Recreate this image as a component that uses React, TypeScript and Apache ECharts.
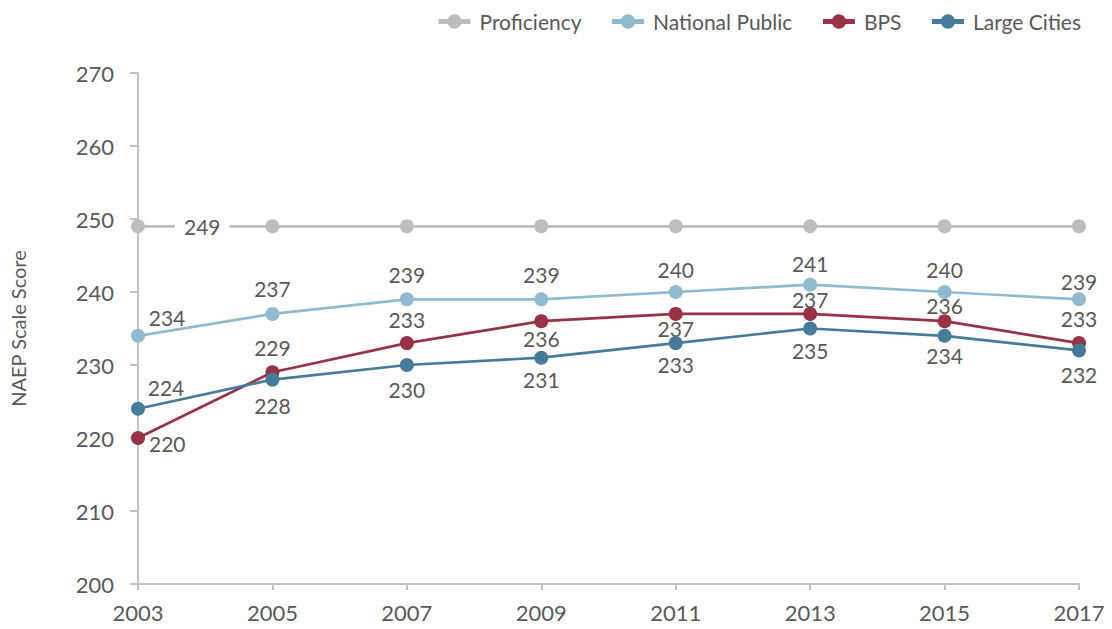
import React, { useEffect, useRef } from "react";
import * as echarts from "echarts";

const years = ["2003", "2005", "2007", "2009", "2011", "2013", "2015", "2017"];
const proficiency = [249, 249, 249, 249, 249, 249, 249, 249];
const nationalPublic = [234, 237, 239, 239, 240, 241, 240, 239];
const bps = [220, 229, 233, 236, 237, 237, 236, 233];
const largeCities = [224, 228, 230, 231, 233, 235, 234, 232];

// label placement per point (style only)
const npPos = ["top", "top", "top", "top", "top", "top", "top", "top"];
const npOff = [[29, 3], [0, -4], [0, -3], [0, -3], [0, -1], [0, 0], [0, -1], [0, 4]];
const bpsPos = ["right", "top", "top", "bottom", "bottom", "top", "top", "top"];
const bpsOff = [[0, 5], [0, -3], [0, -2], [0, -4], [0, -7], [0, 7], [0, 6], [0, -3]];
const lcPos = ["top", "bottom", "bottom", "bottom", "bottom", "bottom", "bottom", "bottom"];
const lcOff = [[28, 0], [0, 4], [0, 3], [0, 0], [0, 0], [0, 0], [0, -2], [0, 3]];

const TEXT = "#595959";
const FONT = "Lato, 'Open Sans', sans-serif";

function withLabels(values: number[], pos: string[], off: number[][]) {
  return values.map((v, i) => ({
    value: v,
    label: { position: pos[i], offset: off[i] },
  }));
}

export default function App() {
  const ref = useRef<HTMLDivElement>(null);
  useEffect(() => {
    if (!ref.current) return;
    const chart = echarts.init(ref.current, undefined, { renderer: "svg" });
    const baseLabel = {
      show: true,
      color: TEXT,
      fontSize: 21,
      fontFamily: FONT,
      distance: 4,
    };
    const lineSeries = (name: string, color: string, data: any[], extra: any = {}) => ({
      name,
      type: "line",
      data,
      symbol: "circle",
      symbolSize: 14,
      lineStyle: { color, width: 2.7 },
      itemStyle: { color },
      label: baseLabel,
      emphasis: { disabled: true },
      ...extra,
    });
    chart.setOption({
      animation: false,
      textStyle: { fontFamily: FONT, color: TEXT },
      legend: {
        top: 6,
        right: 26,
        itemWidth: 32,
        itemHeight: 18,
        itemGap: 28,
        lineStyle: { width: 5 },
        textStyle: { color: TEXT, fontSize: 21, fontFamily: FONT, padding: [0, 0, 0, 4] },
        data: ["Proficiency", "National Public", "BPS", "Large Cities"],
      },
      grid: { left: 138, right: 33, top: 73, bottom: 45 },
      xAxis: {
        type: "category",
        data: years,
        boundaryGap: false,
        axisLine: { lineStyle: { color: "#c4c4c4", width: 2 } },
        axisTick: { length: 6, lineStyle: { color: "#c4c4c4", width: 2 } },
        axisLabel: { color: TEXT, fontSize: 22, fontFamily: FONT, margin: 17 },
      },
      yAxis: {
        type: "value",
        min: 200,
        max: 270,
        interval: 10,
        name: "NAEP Scale Score",
        nameLocation: "middle",
        nameGap: 110,
        nameTextStyle: { color: TEXT, fontSize: 20, fontFamily: FONT },
        axisLine: { show: true, lineStyle: { color: "#c4c4c4", width: 2 } },
        axisTick: { show: true, length: 8, lineStyle: { color: "#c4c4c4", width: 2 } },
        axisLabel: { color: TEXT, fontSize: 22, fontFamily: FONT, margin: 24 },
        splitLine: { show: false },
      },
      series: [
        lineSeries(
          "Proficiency",
          "#bdbdbd",
          proficiency.map((v, i) =>
            i === 0
              ? {
                  value: v,
                  label: {
                    show: true,
                    position: "right",
                    distance: 30,
                    backgroundColor: "#ffffff",
                    padding: [2, 9],
                  },
                }
              : { value: v, label: { show: false } }
          ),
          { z: 1 }
        ),
        lineSeries("National Public", "#8fbad0", withLabels(nationalPublic, npPos, npOff), { z: 2 }),
        lineSeries("BPS", "#983244", withLabels(bps, bpsPos, bpsOff), { z: 3 }),
        lineSeries("Large Cities", "#467b9b", withLabels(largeCities, lcPos, lcOff), { z: 4 }),
      ],
    });
    return () => chart.dispose();
  }, []);
  return <div ref={ref} style={{ width: 1112, height: 629, position: "absolute", left: 0, top: 0 }} />;
}
